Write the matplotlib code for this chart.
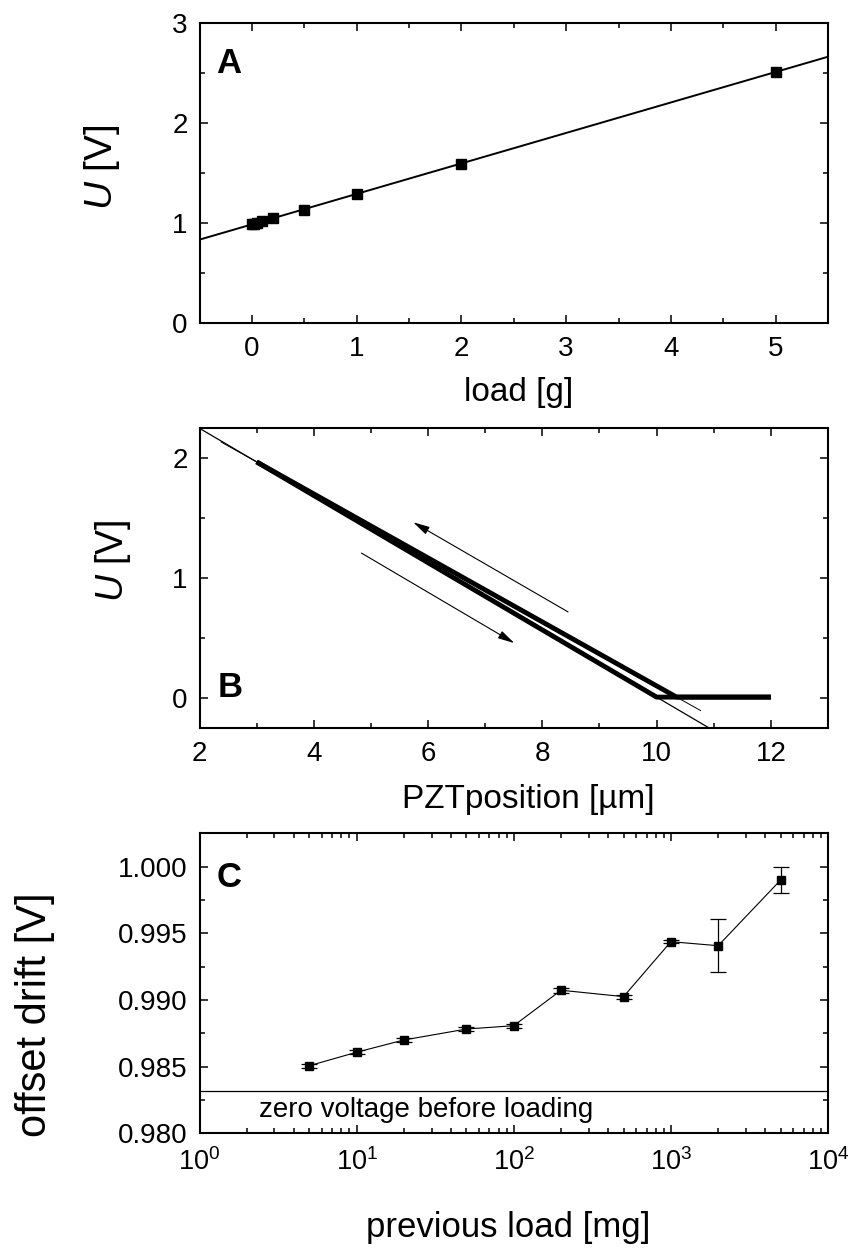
import numpy as np
import matplotlib
matplotlib.use("Agg")
import matplotlib.pyplot as plt
from matplotlib.ticker import MultipleLocator, LogLocator, FormatStrFormatter, NullFormatter

plt.rcParams['font.family'] = ['Liberation Sans', 'DejaVu Sans']
plt.rcParams['mathtext.fontset'] = 'custom'
plt.rcParams['mathtext.rm'] = 'Liberation Sans'
plt.rcParams['mathtext.it'] = 'Liberation Sans:italic'
plt.rcParams['mathtext.bf'] = 'Liberation Sans:bold'

# ---------------- Data ----------------
# Panel A: calibration
load_g = [0.0, 0.02, 0.05, 0.1, 0.2, 0.5, 1.0, 2.0, 5.0]
voltage_a = [0.985, 0.99, 0.998, 1.017, 1.047, 1.130, 1.287, 1.587, 2.510]

# Panel B: PZT approach / retract
retract_x = [3.0, 10.0, 12.0]
retract_u = [1.97, 0.01, 0.01]
approach_x = [12.0, 10.35, 3.0]
approach_u = [0.01, 0.01, 1.97]
fit1_range = [2.0, 11.2]
fit2_range = [2.38, 10.77]
arrow_up = ((8.45, 0.72), (5.74, 1.467))     # (start, end)
arrow_down = ((4.835, 1.21), (7.51, 0.46))

# Panel C: offset drift
prev_load_mg = [5, 10, 20, 50, 100, 200, 500, 1000, 2000, 5000]
offset_v = [0.98507, 0.98608, 0.98700, 0.98782, 0.98807, 0.99073, 0.99025, 0.99437, 0.99407, 0.99900]
offset_err = [0.00015, 0.00015, 0.00012, 0.00015, 0.00015, 0.0002, 0.00015, 0.00012, 0.0020, 0.0010]
zero_voltage = 0.98320

# ---------------- Figure ----------------
W, H = 849, 1249
fig = plt.figure(figsize=(W / 100, H / 100), dpi=100)

left = 199.5 / W
width = 628.5 / W
height = 300 / H
axA = fig.add_axes([left, 1 - 322.7 / H, width, height])
axB = fig.add_axes([left, 1 - 728.3 / H, width, height])
axC = fig.add_axes([left, 1 - 1133.3 / H, width, height])

TICK_FS = 20


def style(ax):
    for s in ax.spines.values():
        s.set_linewidth(1.5)
    ax.tick_params(which='both', direction='in', top=True, right=True,
                   labelsize=TICK_FS, width=1.1)
    ax.tick_params(which='major', length=6)
    ax.tick_params(which='minor', length=3.3)
    ax.tick_params(axis='x', pad=9.5)
    ax.tick_params(axis='y', pad=8.5)


# Panel A
style(axA)
axA.set_xlim(-0.5, 5.5)
axA.set_ylim(0, 3)
coef = np.polyfit(load_g, voltage_a, 1)
xx = np.array(axA.get_xlim())
axA.plot(xx, np.polyval(coef, xx), color='k', lw=1.4)
axA.plot(load_g, voltage_a, 's', color='k', ms=6.6)
axA.xaxis.set_major_locator(MultipleLocator(1))
axA.xaxis.set_minor_locator(MultipleLocator(0.5))
axA.yaxis.set_major_locator(MultipleLocator(1))
axA.yaxis.set_minor_locator(MultipleLocator(0.5))
axA.set_xlabel('load [g]', fontsize=24)
axA.xaxis.set_label_coords(0.507, -0.231)
axA.xaxis.label.set_va('center')
axA.set_ylabel(r'$U$ [V]', fontsize=28)
axA.yaxis.set_label_coords(-0.1556, 0.52)
axA.yaxis.label.set_va('center')
axA.text(0.027, 0.831, 'A', transform=axA.transAxes, fontsize=25,
         fontweight='bold', ha='left', va='baseline')

# Panel B
style(axB)
axB.set_xlim(2, 13)
axB.set_ylim(-0.25, 2.25)
c1 = np.polyfit(retract_x[:2], retract_u[:2], 1)
c2 = np.polyfit(approach_x[1:], approach_u[1:], 1)
x1 = np.array(fit1_range)
x2 = np.array(fit2_range)
axB.plot(x1, np.polyval(c1, x1), color='k', lw=0.9)
axB.plot(x2, np.polyval(c2, x2), color='k', lw=0.7)
axB.plot(retract_x, retract_u, color='k', lw=3.5, solid_capstyle='butt')
axB.plot(approach_x, approach_u, color='k', lw=3.5, solid_capstyle='butt')
for (start, end) in (arrow_up, arrow_down):
    axB.annotate('', xy=end, xytext=start,
                 arrowprops=dict(arrowstyle='-|>,head_length=1.0,head_width=0.25',
                                 color='k', lw=0.8, shrinkA=0, shrinkB=0))
axB.xaxis.set_major_locator(MultipleLocator(2))
axB.xaxis.set_minor_locator(MultipleLocator(1))
axB.yaxis.set_major_locator(MultipleLocator(1))
axB.yaxis.set_minor_locator(MultipleLocator(0.5))
axB.set_xlabel('PZTposition [µm]', fontsize=24)
axB.xaxis.set_label_coords(0.523, -0.236)
axB.xaxis.label.set_va('center')
axB.set_ylabel(r'$U$ [V]', fontsize=27)
axB.yaxis.set_label_coords(-0.138, 0.558)
axB.yaxis.label.set_va('center')
axB.text(0.029, 0.105, 'B', transform=axB.transAxes, fontsize=25,
         fontweight='bold', ha='left', va='baseline')

# Panel C
style(axC)
axC.set_xscale('log')
axC.set_xlim(1, 1e4)
axC.set_ylim(0.980, 1.0025)
axC.axhline(zero_voltage, color='k', lw=0.9)
axC.errorbar(prev_load_mg, offset_v, yerr=offset_err, fmt='-s', color='k',
             ms=6.4, lw=0.8, elinewidth=0.9, capsize=6, capthick=0.9)
axC.xaxis.set_major_locator(LogLocator(base=10, numticks=10))
axC.xaxis.set_minor_locator(LogLocator(base=10, subs=np.arange(2, 10), numticks=20))
axC.xaxis.set_minor_formatter(NullFormatter())
axC.yaxis.set_major_locator(MultipleLocator(0.005))
axC.yaxis.set_minor_locator(MultipleLocator(0.0025))
axC.yaxis.set_major_formatter(FormatStrFormatter('%.3f'))
axC.tick_params(axis='x', which='major', pad=11, labelsize=19.5)
axC.text(0.095, zero_voltage - 0.0005, 'zero voltage before loading',
         transform=axC.get_yaxis_transform(), fontsize=20, ha='left', va='top')
axC.set_xlabel('previous load [mg]', fontsize=25)
axC.xaxis.set_label_coords(0.491, -0.315)
axC.xaxis.label.set_va('center')
axC.set_ylabel('offset drift [V]', fontsize=30)
axC.yaxis.set_label_coords(-0.262, 0.394)
axC.yaxis.label.set_va('center')
axC.text(0.027, 0.822, 'C', transform=axC.transAxes, fontsize=25,
         fontweight='bold', ha='left', va='baseline')

fig.savefig('out.png', dpi=100)
